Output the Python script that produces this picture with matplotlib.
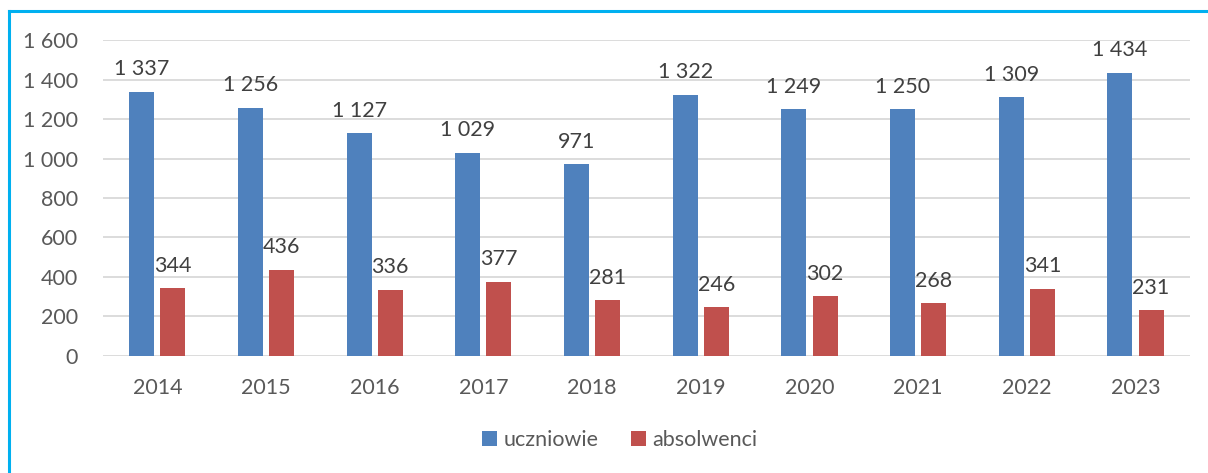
import matplotlib
matplotlib.use("Agg")
import matplotlib.pyplot as plt
import numpy as np
from matplotlib.lines import Line2D
from matplotlib.ticker import FuncFormatter

years = ["2014", "2015", "2016", "2017", "2018", "2019", "2020", "2021", "2022", "2023"]
uczniowie = [1337, 1256, 1127, 1029, 971, 1322, 1249, 1250, 1309, 1434]
absolwenci = [344, 436, 336, 377, 281, 246, 302, 268, 341, 231]

BLUE = "#4F81BD"
RED = "#C0504D"
GRID = "#D9D9D9"
TXT = "#595959"
LBL = "#404040"

plt.rcParams["font.family"] = ["Lato", "DejaVu Sans"]


def spaced(v):
    # separator tysięcy jako spacja, np. 1 337
    return f"{int(v):,}".replace(",", " ")


fig = plt.figure(figsize=(12.08, 4.73), dpi=100)
ax = fig.add_axes([0.0853, 0.2474, 0.8997, 0.668])

x = np.arange(len(years))
w = 0.23
off = 0.143
b1 = ax.bar(x - off, uczniowie, w, color=BLUE, label="uczniowie", zorder=3)
b2 = ax.bar(x + off, absolwenci, w, color=RED, label="absolwenci", zorder=3)

for bars, vals in ((b1, uczniowie), (b2, absolwenci)):
    for r, v in zip(bars, vals):
        ax.annotate(spaced(v), (r.get_x() + r.get_width() / 2, v),
                    xytext=(0, 9), textcoords="offset points",
                    ha="center", va="bottom", fontsize=15.5, color=LBL)

ax.set_xlim(-0.5, len(years) - 0.5)
ax.set_ylim(0, 1600)
ax.set_yticks(range(0, 1601, 200))
ax.yaxis.set_major_formatter(FuncFormatter(lambda v, p: spaced(v)))
ax.set_xticks(x)
ax.set_xticklabels(years)
ax.tick_params(axis="both", length=0, labelsize=15.5, colors=TXT)
ax.tick_params(axis="x", pad=16)
ax.tick_params(axis="y", pad=18)
ax.grid(axis="y", color=GRID, lw=1.3, zorder=0)
for s in ax.spines.values():
    s.set_visible(False)

fig.legend(loc="center", bbox_to_anchor=(0.513, 0.07), ncol=2, frameon=False,
           fontsize=15.5, labelcolor=TXT, handlelength=0.7, handleheight=0.7,
           handletextpad=0.3, columnspacing=1.5)

# ramka: tylko górna i lewa krawędź
fig.add_artist(Line2D([0.0075, 1.0], [0.977, 0.977], color="#00B0F0", lw=2.2))
fig.add_artist(Line2D([0.0075, 0.0075], [0.0, 0.977], color="#00B0F0", lw=2.2))

fig.savefig("out.png", dpi=100, facecolor="white")
